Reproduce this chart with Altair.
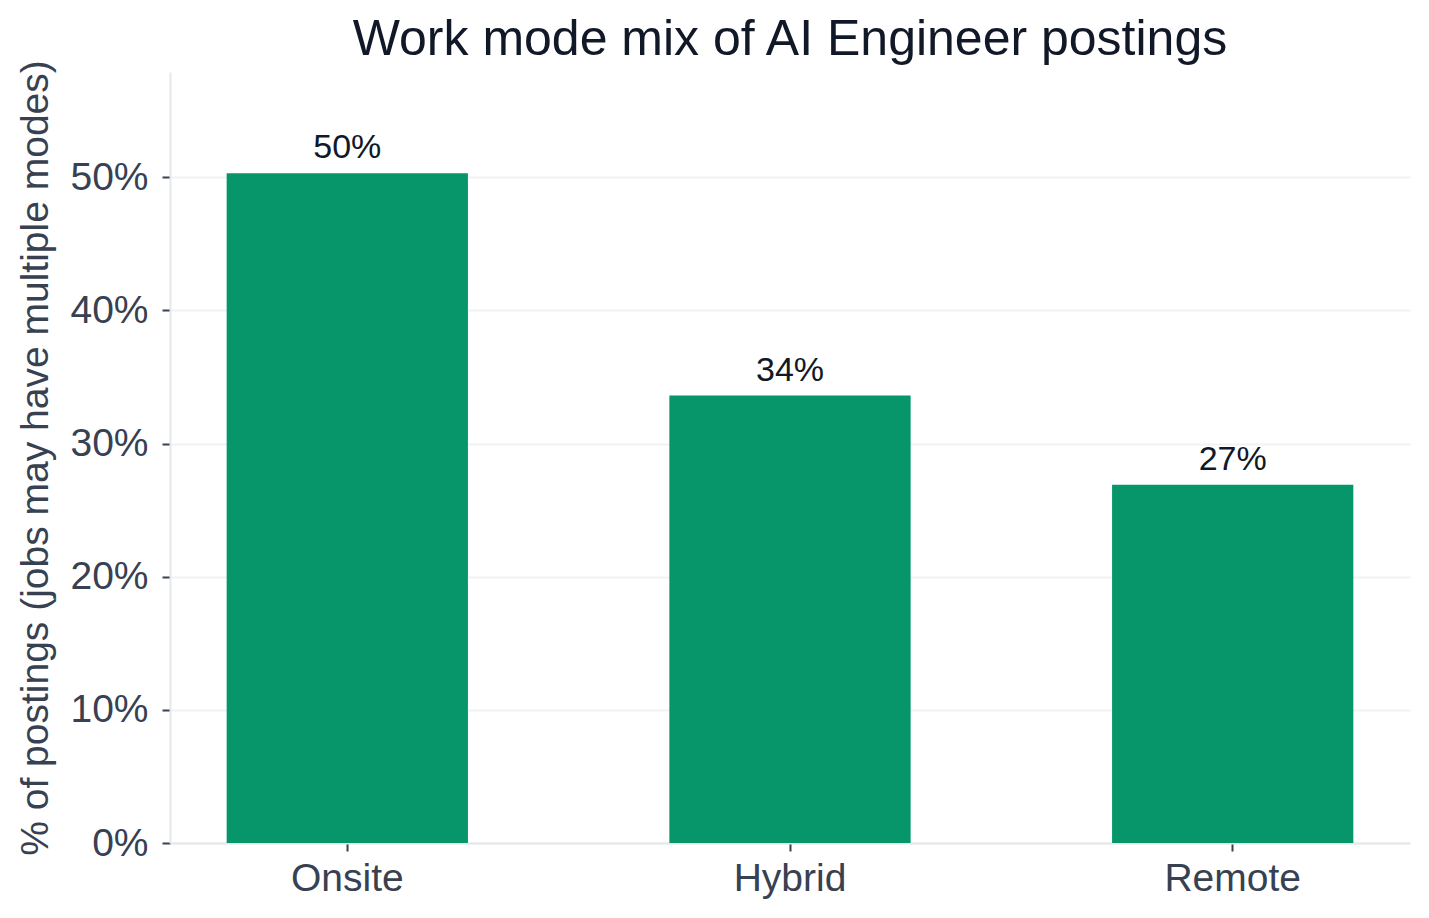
import altair as alt
import pandas as pd

modes = ["Onsite", "Hybrid", "Remote"]
shares = [0.503, 0.336, 0.269]
labels = ["50%", "34%", "27%"]

df = pd.DataFrame({"mode": modes, "share": shares, "label": labels})

FONT = "Liberation Sans"

x = alt.X("mode:N", sort=modes, title=None,
          scale=alt.Scale(paddingInner=0.455, paddingOuter=0.128),
          axis=alt.Axis(labelAngle=0, labelFontSize=39, labelColor="#374151",
                        labelFont=FONT, labelPadding=8, tickColor="#374151",
                        tickSize=8, tickWidth=2, domainColor="#e5e7eb", domainWidth=2,
                        grid=False))
y = alt.Y("share:Q", title="% of postings (jobs may have multiple modes)",
          scale=alt.Scale(domain=[0, 0.579], nice=False),
          axis=alt.Axis(format=".0%", values=[0, 0.1, 0.2, 0.3, 0.4, 0.5],
                        labelFontSize=39, labelColor="#374151", labelFont=FONT,
                        labelPadding=14, tickColor="#374151", tickSize=8, tickWidth=2,
                        domainColor="#e5e7eb", domainWidth=2,
                        gridColor="#f1f2f4", gridWidth=2,
                        titleFontSize=39, titleFont=FONT, titleColor="#374151",
                        titleFontWeight="normal", titlePadding=14))

bars = alt.Chart(df).mark_bar(color="#069669").encode(x=x, y=y)
text = alt.Chart(df).mark_text(baseline="bottom", dy=-8, fontSize=34, font=FONT,
                                color="#111827").encode(
    x=alt.X("mode:N", sort=modes), y="share:Q", text="label:N")

chart = (bars + text).properties(
    width=1240, height=771,
    background="white",
    autosize=alt.AutoSizeParams(type="none"),
    padding={"left": 162, "top": 64, "right": 10, "bottom": 60},
    title=alt.TitleParams("Work mode mix of AI Engineer postings", fontSize=50,
                          font=FONT, color="#111827", fontWeight="normal",
                          anchor="middle", offset=8, dy=13),
).configure_view(strokeWidth=0)

chart.save("out.html", embed_options={"renderer": "svg", "actions": False})
